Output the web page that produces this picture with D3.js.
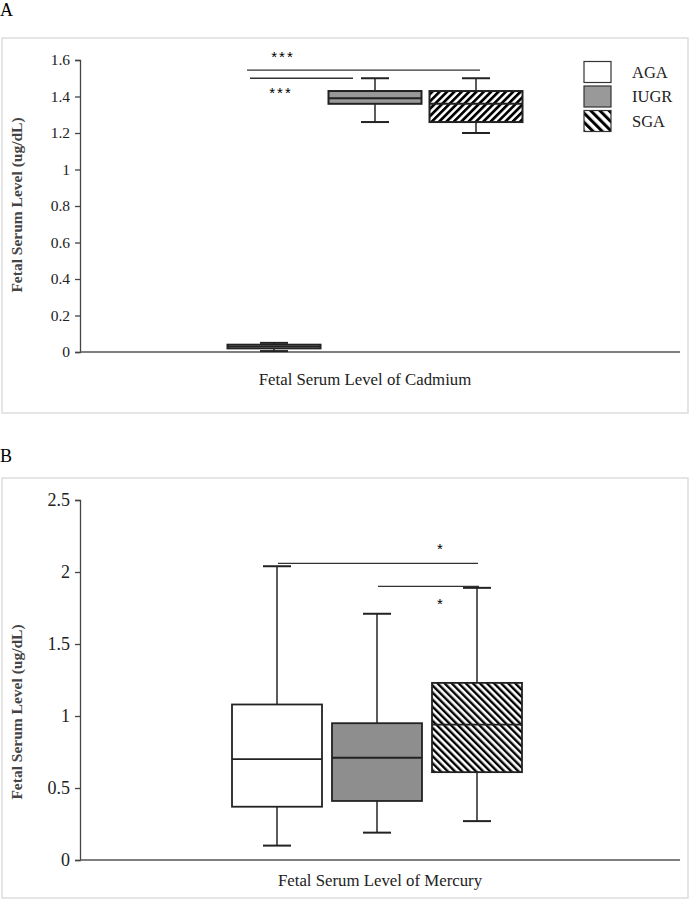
<!DOCTYPE html>
<html><head><meta charset="utf-8">
<script src="https://cdn.jsdelivr.net/npm/d3@7"></script>
<style>body{margin:0;background:#fff}svg{display:block}text{font-family:"Liberation Serif","DejaVu Serif",serif}</style>
</head><body>
<script>
const groups = ["AGA","IUGR","SGA"];
// Cadmium (panel A)
const cdMin = [0.005, 1.26, 1.20];
const cdQ1  = [0.02, 1.36, 1.26];
const cdMed = [0.03, 1.39, 1.36];
const cdQ3  = [0.04, 1.43, 1.43];
const cdMax = [0.05, 1.50, 1.50];
const cdTicks = [0,0.2,0.4,0.6,0.8,1,1.2,1.4,1.6];
// Mercury (panel B)
const hgMin = [0.10, 0.19, 0.27];
const hgQ1  = [0.37, 0.41, 0.61];
const hgMed = [0.70, 0.71, 0.94];
const hgQ3  = [1.08, 0.95, 1.23];
const hgMax = [2.04, 1.71, 1.89];
const hgTicks = [0,0.5,1,1.5,2,2.5];

const W=690,H=902;
const svg=d3.select("body").append("svg").attr("width",W).attr("height",H);
const defs=svg.append("defs");
function hatch(id, size, sw, dir){
  const p=defs.append("pattern").attr("id",id).attr("patternUnits","userSpaceOnUse")
    .attr("width",size).attr("height",size)
    .attr("patternTransform","rotate("+(dir>0?45:-45)+")");
  p.append("rect").attr("width",size).attr("height",size).attr("fill","#fff");
  p.append("rect").attr("x",0).attr("y",0).attr("width",sw).attr("height",size).attr("fill","#000");
}
hatch("hatchA",5.2,2.7,1);
hatch("hatchB",5,2.4,-1);
hatch("hatchL",6.5,3,-1);

const fillsA={AGA:"#fff",IUGR:"#999",SGA:"url(#hatchA)"};
const fillsB={AGA:"#fff",IUGR:"#8e8e8e",SGA:"url(#hatchB)"};

function panel(o){
  const g=svg.append("g");
  g.append("rect").attr("x",o.frame[0]).attr("y",o.frame[1]).attr("width",o.frame[2]).attr("height",o.frame[3])
    .attr("fill","none").attr("stroke","#ddd").attr("stroke-width",1.5);
  g.append("text").attr("x",0).attr("y",o.letterY).attr("font-size",18).attr("fill","#000").text(o.letter);
  const y=d3.scaleLinear().domain([0,o.ticks[o.ticks.length-1]]).range(o.yRange);
  const x=d3.scalePoint().domain(groups).range(o.xRange);
  const ax=g.append("g").attr("transform","translate("+o.axisX+",0)")
    .call(d3.axisLeft(y).tickValues(o.ticks).tickSize(5).tickPadding(5).tickFormat(d3.format("~g")));
  ax.selectAll("path,line").attr("stroke","#444").attr("stroke-width",1.3);
  ax.selectAll("text").attr("font-size",o.tickFont).attr("fill","#222").style("font-family","Liberation Serif");
  g.append("line").attr("x1",o.axisX).attr("x2",680).attr("y1",y(0)).attr("y2",y(0)).attr("stroke","#555").attr("stroke-width",1.3);
  g.append("text").attr("transform","translate(22,"+o.ylabelY+") rotate(-90)").attr("text-anchor","middle")
    .attr("font-size",15.5).attr("font-weight","bold").attr("fill","#444").text("Fetal Serum Level (ug/dL)");
  g.append("text").attr("x",o.xlabelX).attr("y",o.xlabelY).attr("text-anchor","middle").attr("font-size",16.8).attr("fill","#222").text(o.xlabel);
  const bw=o.boxW, cw=28;
  groups.forEach((k,i)=>{
    const cx=x(k);
    const bg=g.append("g");
    bg.append("line").attr("x1",cx).attr("x2",cx).attr("y1",y(o.mx[i])).attr("y2",y(o.q3[i])).attr("stroke","#333").attr("stroke-width",1.6);
    bg.append("line").attr("x1",cx).attr("x2",cx).attr("y1",y(o.q1[i])).attr("y2",y(o.mn[i])).attr("stroke","#333").attr("stroke-width",1.6);
    [o.mx[i],o.mn[i]].forEach(v=>bg.append("line").attr("x1",cx-cw/2).attr("x2",cx+cw/2).attr("y1",y(v)).attr("y2",y(v)).attr("stroke","#222").attr("stroke-width",o.capW));
    bg.append("rect").attr("x",cx-bw/2).attr("y",y(o.q3[i])).attr("width",bw).attr("height",y(o.q1[i])-y(o.q3[i]))
      .attr("fill",o.fills[k]).attr("stroke","#222").attr("stroke-width",o.boxSW);
    bg.append("line").attr("x1",cx-bw/2).attr("x2",cx+bw/2).attr("y1",y(o.md[i])).attr("y2",y(o.md[i])).attr("stroke","#222").attr("stroke-width",o.boxSW);
  });
  o.sig.forEach(s=>{
    g.append("line").attr("x1",x(s.from)+s.dx1).attr("x2",x(s.to)+s.dx2).attr("y1",y(s.v)).attr("y2",y(s.v)).attr("stroke","#333").attr("stroke-width",1.3);
    g.append("text").attr("x",s.tx).attr("y",y(s.v)+s.ty).attr("text-anchor","middle").attr("font-size",15)
      .style("font-family","Liberation Sans").attr("letter-spacing",2).attr("fill","#000").attr("stroke","none").text(s.label);
  });
  return g;
}

panel({letter:"A",letterY:16,frame:[2,38,686,375],ticks:cdTicks,yRange:[352,60],xRange:[274,476],axisX:80,tickFont:15.5,
  ylabelY:205,xlabel:"Fetal Serum Level of Cadmium",xlabelX:365,xlabelY:385,boxW:93,capW:2,boxSW:2,
  mn:cdMin,q1:cdQ1,md:cdMed,q3:cdQ3,mx:cdMax,fills:fillsA,
  sig:[{from:"AGA",to:"SGA",dx1:-27,dx2:4,v:1.545,tx:283,ty:-8,label:"***"},
       {from:"AGA",to:"IUGR",dx1:-24,dx2:-22,v:1.50,tx:281,ty:20,label:"***"}]});

panel({letter:"B",letterY:462,frame:[2,478,686,420],ticks:hgTicks,yRange:[860,500],xRange:[277,477],axisX:80,tickFont:18,
  ylabelY:712,xlabel:"Fetal Serum Level of Mercury",xlabelX:380,xlabelY:886,boxW:90,capW:2,boxSW:1.8,
  mn:hgMin,q1:hgQ1,md:hgMed,q3:hgQ3,mx:hgMax,fills:fillsB,
  sig:[{from:"AGA",to:"SGA",dx1:1,dx2:1,v:2.06,tx:441,ty:-9,label:"*"},
       {from:"IUGR",to:"SGA",dx1:1,dx2:2,v:1.90,tx:441,ty:23,label:"*"}]});

// legend (panel A)
const leg=svg.append("g");
const ly=d3.scalePoint().domain(groups).range([72,121]);
const legFill={AGA:"#fff",IUGR:"#999",SGA:"url(#hatchL)"};
groups.forEach(k=>{
  leg.append("rect").attr("x",584).attr("y",ly(k)-10.5).attr("width",27).attr("height",21)
    .attr("fill",legFill[k]).attr("stroke","#333").attr("stroke-width",1.2);
  leg.append("text").attr("x",632).attr("y",ly(k)+5.5).attr("font-size",16.5).attr("fill","#222").text(k);
});
</script>
</body></html>
